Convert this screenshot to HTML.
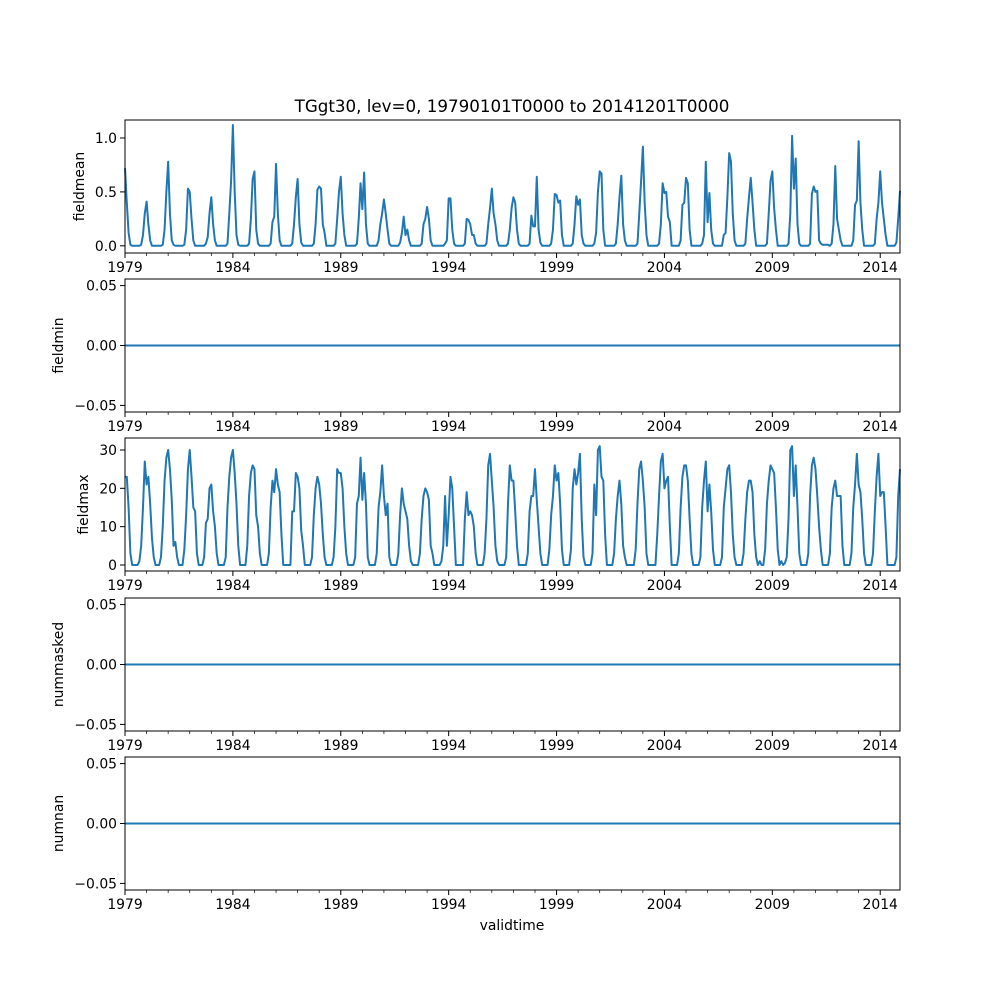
<!DOCTYPE html>
<html><head><meta charset="utf-8"><style>
body{margin:0;background:#fff}
svg text{font-family:"DejaVu Sans","Liberation Sans",sans-serif;fill:#000}
</style></head><body>
<svg id="chart" width="1000" height="1000" xmlns="http://www.w3.org/2000/svg"></svg>
<script>
const startYear = 1979;
const nMonths = 432;
const fieldmean = [
.72,.40,.12,.01,0,0,0,0,0,.01,.10,.30,
.41,.20,.05,0,0,0,0,0,0,.01,.15,.50,
.78,.30,.05,.01,0,0,0,0,0,.01,.15,.53,
.50,.25,.05,0,0,0,0,0,0,.02,.08,.30,
.45,.20,.05,0,0,0,0,0,0,.02,.30,.60,
1.12,.50,.10,.01,0,0,0,0,0,.02,.25,.62,
.69,.15,.02,0,0,0,0,0,0,.02,.22,.27,
.76,.30,.05,0,0,0,0,0,0,.02,.20,.45,
.62,.20,.03,0,0,0,0,0,0,.02,.20,.52,
.55,.53,.20,.12,0,0,0,0,0,.02,.25,.50,
.64,.30,.10,0,0,0,0,0,0,.02,.25,.58,
.34,.68,.20,.02,0,0,0,0,0,.05,.20,.30,
.43,.30,.15,.02,0,0,0,0,0,.03,.12,.27,
.10,.15,.05,0,0,0,0,0,0,.02,.20,.25,
.36,.25,.05,0,0,0,0,0,0,0,.02,.05,
.44,.44,.15,.02,0,0,0,0,0,.02,.25,.24,
.20,.10,.10,.02,0,0,0,0,0,.02,.20,.35,
.53,.30,.20,.05,0,0,0,0,0,.02,.15,.35,
.45,.40,.15,.02,0,0,0,0,0,.02,.28,.18,
.18,.64,.15,.03,0,0,0,0,0,.02,.15,.48,
.47,.40,.42,.10,0,0,0,0,0,.02,.20,.46,
.38,.43,.10,.02,0,0,0,0,0,.02,.12,.50,
.69,.67,.15,0,0,0,0,0,0,.02,.20,.45,
.65,.20,.05,0,0,0,0,0,0,.02,.30,.60,
.92,.40,.10,0,0,0,0,0,0,.02,.20,.58,
.49,.50,.27,.22,0,0,0,0,0,.05,.38,.40,
.63,.58,.15,0,0,0,0,0,0,.02,.10,.78,
.22,.49,.15,.02,0,0,0,0,0,.10,.12,.45,
.86,.78,.30,.05,0,0,0,0,0,.02,.25,.45,
.63,.40,.15,0,0,0,0,0,0,.02,.30,.60,
.69,.35,.15,0,0,0,0,0,0,.02,.30,1.02,
.53,.81,.20,.02,0,0,0,0,0,.02,.48,.55,
.50,.51,.05,.02,.01,.01,.01,.01,0,.02,.20,.74,
.25,.15,.05,0,0,0,0,0,0,.05,.38,.42,
.97,.40,.15,0,0,0,0,0,0,.02,.25,.40,
.69,.40,.25,.10,0,0,0,0,0,.03,.25,.51
];
const fieldmax = [
23,23,15,3,0,0,0,0,1,5,15,27,
21,23,16,7,2,0,0,0,2,10,22,28,
30,25,17,5,6,2,0,0,0,4,13,25,
30,23,15,14,3,0,0,0,2,11,12,20,
21,14,10,3,0,0,0,0,2,15,23,28,
30,24,16,5,0,0,0,0,5,18,24,26,
25,13,10,3,0,0,0,0,3,15,22,19,
25,21,19,8,0,0,0,0,0,14,14,24,
23,20,9,5,0,0,0,0,2,13,20,23,
21,16,8,2,0,0,0,0,2,10,25,24,
24,20,10,3,0,0,0,0,2,16,18,28,
17,24,16,2,0,0,0,0,3,15,19,26,
18,13,16,2,0,0,0,0,3,13,20,16,
14,12,5,1,0,0,0,0,3,12,18,20,
19,17,5,3,0,0,0,0,1,5,18,5,
13,23,20,10,0,0,0,0,0,12,19,13,
14,13,10,3,0,0,0,0,3,12,26,29,
22,15,5,1,0,0,0,0,2,16,26,22,
22,14,5,0,0,0,0,0,3,14,18,18,
25,17,10,3,0,0,0,0,4,13,18,26,
22,24,16,4,0,0,0,0,4,20,25,21,
24,29,12,2,0,0,0,0,3,21,13,30,
31,23,22,8,0,0,0,0,3,12,18,22,
16,5,2,0,0,0,0,0,4,16,25,27,
22,15,3,0,0,0,0,0,8,18,27,29,
20,22,23,10,0,0,0,0,3,15,23,26,
26,22,12,3,0,0,0,0,2,15,22,27,
14,21,14,4,0,0,0,0,2,15,20,25,
26,19,8,2,0,0,0,0,3,12,19,22,
22,19,8,2,0,1,0,0,4,16,22,26,
25,24,15,4,0,1,0,0.5,2,12,30,31,
18,26,15,3,0,0,0,0,3,18,26,28,
25,18,10,4,0,0,0,0,3,15,20,22,
18,18,18,5,0,0,0,0,3,15,21,29,
21,19,12,3,0,0,0,0,3,14,23,29,
18,19,19,10,0,0,0,0,0,2,18,25
];
const fieldmin = new Array(nMonths).fill(0);
const nummasked = new Array(nMonths).fill(0);
const numnan = new Array(nMonths).fill(0);
const xTickLabels = ["1979","1984","1989","1994","1999","2004","2009","2014"];
const meanTicks = [0.0,0.5,1.0], meanTickLabels = ["0.0","0.5","1.0"];
const maxTicks = [0,10,20,30], maxTickLabels = ["0","10","20","30"];
const zeroTicks = [-0.05,0,0.05], zeroTickLabels = ["−0.05","0.00","0.05"];

const NS="http://www.w3.org/2000/svg";
const svg=document.getElementById('chart');
function mk(tag,attrs,parent){const e=document.createElementNS(NS,tag);for(const k in attrs)e.setAttribute(k,attrs[k]);(parent||svg).appendChild(e);return e;}
const L=125,R=900,FS=13.9;
function xOf(t){return L+t*(R-L)/(nMonths-1);}

const panels=[
 {name:'fieldmean',data:fieldmean,top:120,bot:253,ymin:-0.0667,ymax:1.1667,ticks:meanTicks,labels:meanTickLabels,tx:84},
 {name:'fieldmin',data:fieldmin,top:279,bot:412,ymin:-0.0555,ymax:0.0555,ticks:zeroTicks,labels:zeroTickLabels,tx:63},
 {name:'fieldmax',data:fieldmax,top:438,bot:571,ymin:-1.57,ymax:33.13,ticks:maxTicks,labels:maxTickLabels,tx:88},
 {name:'nummasked',data:nummasked,top:598,bot:731,ymin:-0.0555,ymax:0.0555,ticks:zeroTicks,labels:zeroTickLabels,tx:63},
 {name:'numnan',data:numnan,top:757,bot:890,ymin:-0.0555,ymax:0.0555,ticks:zeroTicks,labels:zeroTickLabels,tx:63}
];
panels.forEach(p=>{
 const g=mk('g',{});
 
 
 const yOf=v=>p.bot-(v-p.ymin)/(p.ymax-p.ymin)*(p.bot-p.top);
 const d=p.data.map((v,i)=>(i?'L':'M')+xOf(i).toFixed(2)+','+yOf(v).toFixed(2)).join('');
 const line=mk('path',{d:d,fill:'none',stroke:'#1f77b4','stroke-width':2,'stroke-linejoin':'round'},g);
 
 
 const frame=mk('rect',{x:L,y:p.top,width:R-L,height:p.bot-p.top,fill:'none',stroke:'#000','stroke-width':1},g);
 
 
 p.ticks.forEach((v,i)=>{
  const y=yOf(v);
  mk('line',{x1:L-5,x2:L,y1:y,y2:y,stroke:'#000','stroke-width':1},g);
  const t=mk('text',{x:L-8,y:y+5,'font-size':FS,'text-anchor':'end'},g);
  t.textContent=p.labels[i];
  
  
 });
 for(let yr=0;yr<36;yr++){
  const x=xOf(yr*12);
  const major=yr%5===0;
  mk('line',{x1:x,x2:x,y1:p.bot,y2:p.bot+(major?5:3),stroke:'#000','stroke-width':major?1:0.7},g);
  if(major){
   const t=mk('text',{x:x,y:p.bot+19,'font-size':FS,'text-anchor':'middle'},g);
   t.textContent=xTickLabels[yr/5];
   
   
  }
 }
 const yl=mk('text',{x:0,y:0,'font-size':FS,'text-anchor':'middle',transform:`translate(${p.tx},${(p.top+p.bot)/2}) rotate(-90)`},g);
 yl.textContent=p.name;
 
 
});
const title=mk('text',{x:512,y:112,'font-size':16.7,'text-anchor':'middle'});
title.textContent='TGgt30, lev=0, 19790101T0000 to 20141201T0000';


const xl=mk('text',{x:512,y:930,'font-size':FS,'text-anchor':'middle'});
xl.textContent='validtime';


</script>
</body></html>
